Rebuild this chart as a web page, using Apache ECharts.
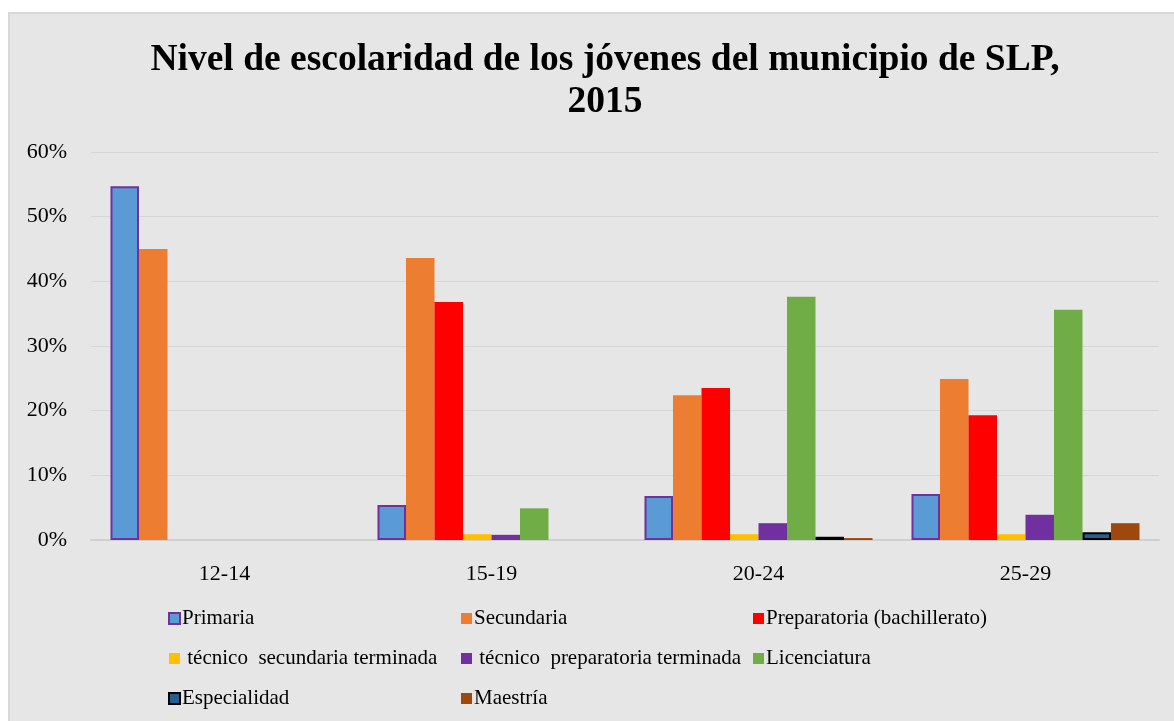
<!DOCTYPE html>
<html>
<head>
<meta charset="utf-8">
<script src="https://cdn.jsdelivr.net/npm/echarts@6/dist/echarts.min.js"></script>
<style>
  html, body { margin: 0; padding: 0; background: #fff; }
  #panel { position: absolute; left: 8px; top: 12px; width: 1166px; height: 709px;
           background: #e6e6e6; border-left: 2px solid #d9d9d9; border-top: 2px solid #d9d9d9; box-sizing: border-box; }
  #chart { position: absolute; left: 0; top: 0; width: 1174px; height: 721px; }
</style>
</head>
<body>
<div id="panel"></div>
<div id="chart"></div>
<script>
// grupos de edad
var categorias = ['12-14', '15-19', '20-24', '25-29'];
// porcentajes por nivel de escolaridad (null = sin dato)
var primaria     = [54.7, 5.4, 6.8, 7.1];
var secundaria   = [45.0, 43.6, 22.4, 24.9];
var preparatoria = [null, 36.8, 23.5, 19.3];
var tecSec       = [null, 0.9, 0.9, 0.9];
var tecPrep      = [null, 0.8, 2.6, 3.9];
var licenciatura = [null, 4.9, 37.6, 35.6];
var especialidad = [null, null, 0.5, 1.2];
var maestria     = [null, null, 0.3, 2.6];
var nombres = ['Primaria', 'Secundaria', 'Preparatoria (bachillerato)',
               ' técnico  secundaria terminada', ' técnico  preparatoria terminada', 'Licenciatura',
               'Especialidad', 'Maestría'];
var yTicks = [0, 10, 20, 30, 40, 50, 60];

var myChart = echarts.init(document.getElementById('chart'));
var fuente = '"Liberation Serif", "Times New Roman", serif';

function serie(nombre, datos, color, borde) {
    return {
        name: nombre,
        type: 'bar',
        data: datos,
        barCategoryGap: '14.6%',
        barGap: '0%',
        itemStyle: {
            color: color,
            borderColor: borde || color,
            borderWidth: borde ? 2 : 0
        }
    };
}

function leyenda(left, items) {
    return {
        orient: 'vertical',
        left: left,
        top: 603,
        itemWidth: 11,
        itemHeight: 11,
        itemGap: 19,
        icon: 'rect',
        data: items,
        selectedMode: false,
        textStyle: { fontFamily: fuente, fontSize: 21, color: '#000', padding: [0, 0, 0, -3] }
    };
}

var option = {
    backgroundColor: 'transparent',
    animation: false,
    title: {
        text: 'Nivel de escolaridad de los jóvenes del municipio de SLP,\n2015',
        left: 600,
        textAlign: 'center',
        top: 34,
        textStyle: { fontFamily: fuente, fontSize: 37.5, fontWeight: 'bold', color: '#000', lineHeight: 42 }
    },
    legend: [
        leyenda(163, [nombres[0], nombres[3], nombres[6]]),
        leyenda(456, [nombres[1], nombres[4], nombres[7]]),
        leyenda(748, [nombres[2], nombres[5]])
    ],
    grid: { left: 91, right: 15, top: 152, bottom: 181 },
    xAxis: {
        type: 'category',
        data: categorias,
        axisTick: { show: false },
        axisLine: { lineStyle: { color: '#d0d0d0', width: 2 } },
        axisLabel: { fontFamily: fuente, fontSize: 22, color: '#000', margin: 23 }
    },
    yAxis: {
        type: 'value',
        min: yTicks[0],
        max: yTicks[yTicks.length - 1],
        interval: 10,
        axisLine: { show: false },
        axisTick: { show: false },
        splitLine: { lineStyle: { color: '#d6d6d6', width: 1 } },
        axisLabel: { fontFamily: fuente, fontSize: 22, color: '#000', margin: 24, formatter: '{value}%' }
    },
    series: [
        serie(nombres[0], primaria, '#5b9bd5', '#7030a0'),
        serie(nombres[1], secundaria, '#ed7d31'),
        serie(nombres[2], preparatoria, '#ff0000'),
        serie(nombres[3], tecSec, '#ffc000'),
        serie(nombres[4], tecPrep, '#7030a0'),
        serie(nombres[5], licenciatura, '#70ad47'),
        serie(nombres[6], especialidad, '#255e91', '#000000'),
        serie(nombres[7], maestria, '#9e480e')
    ]
};
myChart.setOption(option);
</script>
</body>
</html>
